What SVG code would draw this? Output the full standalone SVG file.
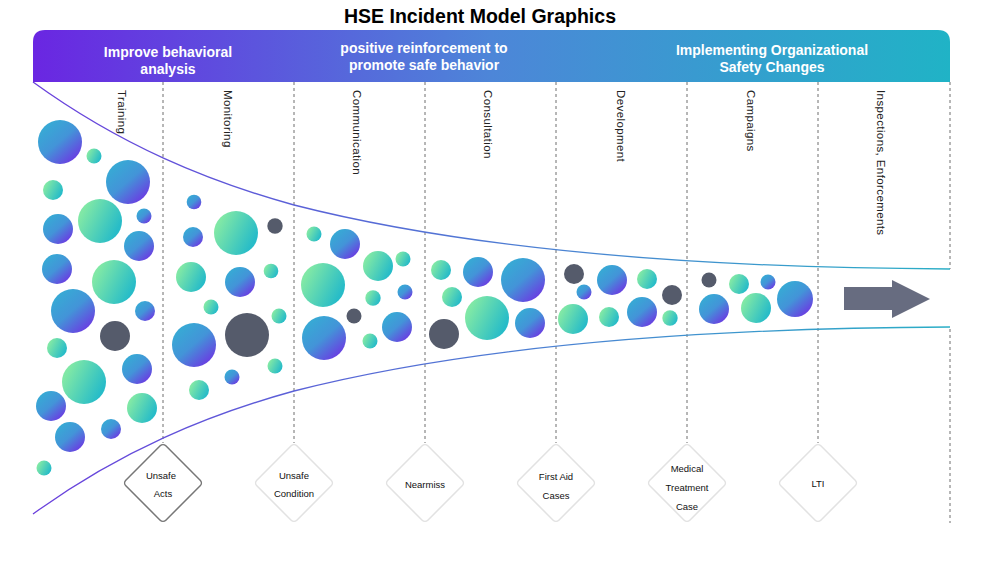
<svg xmlns="http://www.w3.org/2000/svg" width="984" height="573" viewBox="0 0 984 573">
<defs>
<linearGradient id="hdr" x1="0" y1="0" x2="1" y2="0">
<stop offset="0" stop-color="#6a26e2"/>
<stop offset="0.5" stop-color="#4d86d8"/>
<stop offset="1" stop-color="#20b3c6"/>
</linearGradient>
<linearGradient id="ln" gradientUnits="userSpaceOnUse" x1="33" y1="0" x2="950" y2="0">
<stop offset="0" stop-color="#6a3fdc"/>
<stop offset="0.6" stop-color="#4a86d2"/>
<stop offset="1" stop-color="#2aaec6"/>
</linearGradient>
<linearGradient id="gb" x1="0.2" y1="0.15" x2="0.85" y2="0.9">
<stop offset="0" stop-color="#38a8d5"/>
<stop offset="0.45" stop-color="#4394d8"/>
<stop offset="1" stop-color="#6a3ce2"/>
</linearGradient>
<linearGradient id="gg" x1="0.1" y1="0.3" x2="0.9" y2="0.7">
<stop offset="0" stop-color="#80e8a6"/>
<stop offset="1" stop-color="#27bcc8"/>
</linearGradient>
<style>
.b{fill:url(#gb)}
.g{fill:url(#gg)}
.d{fill:#555b6b}
.guide{stroke:#6e6e6e;stroke-width:1;stroke-dasharray:3 3;fill:none}
.curve{stroke:url(#ln);stroke-width:1.3;fill:none}
.hd{font-family:"Liberation Sans",Arial,sans-serif;font-weight:bold;font-size:14px;fill:#ffffff;text-anchor:middle}
.col{font-family:"Liberation Sans",Arial,sans-serif;font-size:11.5px;letter-spacing:0.4px;fill:#222}
.dm{fill:#ffffff;stroke:#e2e2e2;stroke-width:1.5}
.dt{font-family:"Liberation Sans",Arial,sans-serif;font-size:9.5px;fill:#111;text-anchor:middle}
</style>
</defs>
<rect width="984" height="573" fill="#ffffff"/>
<text x="480" y="23" text-anchor="middle" font-family="'Liberation Sans',Arial,sans-serif" font-weight="bold" font-size="19.5" fill="#000">HSE Incident Model Graphics</text>

<g id="header">
<path d="M33,82 V42 Q33,30 45,30 H938 Q950,30 950,42 V82 Z" fill="url(#hdr)"/>
<text class="hd" x="168" y="57">Improve behavioral</text>
<text class="hd" x="168" y="74">analysis</text>
<text class="hd" x="424" y="53">positive reinforcement to</text>
<text class="hd" x="424" y="70">promote safe behavior</text>
<text class="hd" x="772" y="55">Implementing Organizational</text>
<text class="hd" x="772" y="72">Safety Changes</text>
</g>

<g id="connectors">
<line class="guide" x1="163" y1="82" x2="163" y2="443"/>
<line class="guide" x1="294" y1="82" x2="294" y2="443"/>
<line class="guide" x1="425" y1="82" x2="425" y2="443"/>
<line class="guide" x1="556" y1="82" x2="556" y2="443"/>
<line class="guide" x1="687" y1="82" x2="687" y2="443"/>
<line class="guide" x1="818" y1="82" x2="818" y2="443"/>
<line class="guide" x1="950" y1="82" x2="950" y2="269"/>
<line class="guide" x1="950" y1="329" x2="950" y2="523"/>
<path class="curve" d="M33,82 C120,145 207,181 294,205 C470,250 700,268 950,269"/>
<path class="curve" d="M33,514 C120,451 207,415 294,391 C470,346 700,328 950,327"/>
</g>

<g id="column-labels">
<text class="col" transform="translate(118,90) rotate(90)">Training</text>
<text class="col" transform="translate(224,90) rotate(90)">Monitoring</text>
<text class="col" transform="translate(353,90) rotate(90)">Communication</text>
<text class="col" transform="translate(484,90) rotate(90)">Consultation</text>
<text class="col" transform="translate(617,90) rotate(90)">Development</text>
<text class="col" transform="translate(747,90) rotate(90)">Campaigns</text>
<text class="col" transform="translate(877,90) rotate(90)">Inspections, Enforcements</text>
</g>

<g id="bubbles">
<circle class="b" cx="60" cy="142" r="22"/>
<circle class="g" cx="94" cy="156" r="7.5"/>
<circle class="b" cx="128" cy="182" r="22"/>
<circle class="g" cx="53" cy="190" r="10"/>
<circle class="g" cx="100" cy="221" r="22"/>
<circle class="b" cx="144" cy="216" r="7.5"/>
<circle class="b" cx="58" cy="229" r="15"/>
<circle class="b" cx="139" cy="246" r="15"/>
<circle class="b" cx="57" cy="269" r="15"/>
<circle class="g" cx="114" cy="282" r="22"/>
<circle class="b" cx="73" cy="311" r="22"/>
<circle class="b" cx="145" cy="311" r="10"/>
<circle class="d" cx="115" cy="336" r="15"/>
<circle class="g" cx="57" cy="348" r="10"/>
<circle class="b" cx="137" cy="369" r="15"/>
<circle class="g" cx="84" cy="382" r="22"/>
<circle class="b" cx="51" cy="406" r="15"/>
<circle class="g" cx="142" cy="408" r="15"/>
<circle class="b" cx="70" cy="437" r="15"/>
<circle class="b" cx="111" cy="429" r="10"/>
<circle class="g" cx="44" cy="468" r="7.5"/>

<circle class="b" cx="194" cy="202" r="7.3"/>
<circle class="g" cx="236" cy="233" r="22"/>
<circle class="d" cx="275" cy="226" r="7.7"/>
<circle class="b" cx="193" cy="237" r="10"/>
<circle class="g" cx="191" cy="277" r="15"/>
<circle class="b" cx="240" cy="282" r="15"/>
<circle class="g" cx="271" cy="271" r="7.3"/>
<circle class="g" cx="211" cy="307" r="7.5"/>
<circle class="b" cx="194" cy="345" r="22"/>
<circle class="d" cx="247" cy="335" r="22"/>
<circle class="g" cx="279" cy="316" r="7.5"/>
<circle class="g" cx="275" cy="366" r="7.5"/>
<circle class="b" cx="232" cy="377" r="7.5"/>
<circle class="g" cx="199" cy="390" r="10"/>

<circle class="g" cx="314" cy="234" r="7.5"/>
<circle class="b" cx="345" cy="244" r="15"/>
<circle class="g" cx="378" cy="266" r="15"/>
<circle class="g" cx="403" cy="259" r="7.5"/>
<circle class="g" cx="323" cy="285" r="22"/>
<circle class="g" cx="373" cy="298" r="7.7"/>
<circle class="b" cx="405" cy="292" r="7.5"/>
<circle class="d" cx="354" cy="316" r="7.5"/>
<circle class="b" cx="324" cy="338" r="22"/>
<circle class="b" cx="397" cy="327" r="15"/>
<circle class="g" cx="370" cy="341" r="7.5"/>

<circle class="g" cx="441" cy="270" r="10"/>
<circle class="b" cx="478" cy="272" r="15"/>
<circle class="b" cx="523" cy="280" r="22"/>
<circle class="g" cx="452" cy="297" r="10"/>
<circle class="g" cx="487" cy="318" r="22"/>
<circle class="d" cx="444" cy="334" r="15"/>
<circle class="b" cx="530" cy="323" r="15"/>

<circle class="d" cx="574" cy="274" r="10"/>
<circle class="b" cx="612" cy="280" r="15"/>
<circle class="g" cx="647" cy="279" r="10"/>
<circle class="b" cx="584" cy="292" r="7.5"/>
<circle class="d" cx="672" cy="295" r="10"/>
<circle class="g" cx="573" cy="319" r="15"/>
<circle class="g" cx="609" cy="317" r="10"/>
<circle class="b" cx="642" cy="312" r="15"/>
<circle class="g" cx="670" cy="318" r="7.7"/>

<circle class="d" cx="709" cy="280" r="7.5"/>
<circle class="g" cx="739" cy="284" r="10"/>
<circle class="b" cx="768" cy="282" r="7.5"/>
<circle class="b" cx="714" cy="309" r="15"/>
<circle class="g" cx="756" cy="308" r="15"/>
<circle class="b" cx="795" cy="299" r="18"/>
</g>

<g id="arrow">
<polygon points="844,287 892,287 892,280 930,299 892,318 892,310 844,310" fill="#676c80"/>
</g>

<g id="node-unsafe-acts">
<rect x="-28.3" y="-28.3" width="56.6" height="56.6" rx="4" transform="translate(163,483) rotate(45)" fill="#fff" stroke="#777" stroke-width="1.5"/>
<text class="dt" x="161" y="479">Unsafe</text>
<text class="dt" x="163" y="497">Acts</text>
</g>
<g id="node-unsafe-condition">
<rect class="dm" x="-28.3" y="-28.3" width="56.6" height="56.6" rx="4" transform="translate(294,483) rotate(45)"/>
<text class="dt" x="294" y="479">Unsafe</text>
<text class="dt" x="294" y="497">Condition</text>
</g>
<g id="node-nearmiss">
<rect class="dm" x="-28.3" y="-28.3" width="56.6" height="56.6" rx="4" transform="translate(425,483) rotate(45)"/>
<text class="dt" x="425" y="488">Nearmiss</text>
</g>
<g id="node-first-aid">
<rect class="dm" x="-28.3" y="-28.3" width="56.6" height="56.6" rx="4" transform="translate(556,483) rotate(45)"/>
<text class="dt" x="556" y="480">First Aid</text>
<text class="dt" x="556" y="499">Cases</text>
</g>
<g id="node-medical-treatment">
<rect class="dm" x="-28.3" y="-28.3" width="56.6" height="56.6" rx="4" transform="translate(687,483) rotate(45)"/>
<text class="dt" x="687" y="472">Medical</text>
<text class="dt" x="687" y="491">Treatment</text>
<text class="dt" x="687" y="510">Case</text>
</g>
<g id="node-lti">
<rect class="dm" x="-28.3" y="-28.3" width="56.6" height="56.6" rx="4" transform="translate(818,483) rotate(45)"/>
<text class="dt" x="818" y="487">LTI</text>
</g>
</svg>
